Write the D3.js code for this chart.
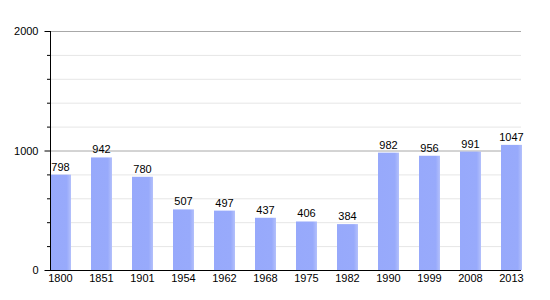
<!DOCTYPE html>
<html><head><meta charset="utf-8">
<script src="https://cdn.jsdelivr.net/npm/d3@7"></script>
<style>body{margin:0;background:#fff}svg{display:block}text{font-family:"Liberation Sans",Arial,sans-serif;font-size:11px;fill:#000}</style>
</head><body>
<script>
const years = ["1800","1851","1901","1954","1962","1968","1975","1982","1990","1999","2008","2013"];
const population = [798,942,780,507,497,437,406,384,982,956,991,1047];
const yTicks = [0,1000,2000];
const minorTicks = [200,400,600,800,1200,1400,1600,1800];

const W=550,H=300, mLeft=50, mRight=521, mTop=31, mBottom=270;
const svg=d3.select("body").append("svg").attr("width",W).attr("height",H);
const defs=svg.append("defs");
const g=defs.append("linearGradient").attr("id","bar").attr("x1","0").attr("x2","1");
g.append("stop").attr("offset","0").attr("stop-color","#97a9fb");
g.append("stop").attr("offset","0.8").attr("stop-color","#98aafb");
g.append("stop").attr("offset","1").attr("stop-color","#b4c1fb");

const y=d3.scaleLinear().domain([0,2000]).range([mBottom,mTop]);
const x=d3.scaleBand().domain(years).range([mLeft,mLeft+41*12]).paddingInner(0).paddingOuter(0);
const bw=21;

svg.append("g").selectAll("line").data(minorTicks).join("line")
 .attr("x1",mLeft).attr("x2",mRight).attr("y1",d=>y(d)+0.5).attr("y2",d=>y(d)+0.5)
 .attr("stroke","#e6e6e6");
svg.append("g").selectAll("line").data([1000,2000]).join("line")
 .attr("x1",mLeft).attr("x2",mRight).attr("y1",d=>y(d)+0.5).attr("y2",d=>y(d)+0.5)
 .attr("stroke","#a8a8a8");

svg.append("g").selectAll("rect").data(population).join("rect")
 .attr("x",(d,i)=>x(years[i])).attr("width",bw)
 .attr("y",d=>y(d)).attr("height",d=>mBottom-y(d)).attr("fill","url(#bar)");

svg.append("g").selectAll("text").data(population).join("text")
 .attr("x",(d,i)=>x(years[i])+bw/2).attr("y",d=>y(d)-4)
 .attr("text-anchor","middle").text(d=>d);

// y axis
const ya=svg.append("g").attr("transform",`translate(${mLeft+0.5},0)`)
 .call(d3.axisLeft(y).tickValues(yTicks).tickSize(6).tickPadding(6).tickFormat(d3.format("d")));
ya.select(".domain").remove();
ya.selectAll("line").attr("stroke","#000");
ya.selectAll("text").style("font-size","11px").style("font-family","'Liberation Sans',Arial,sans-serif").attr("fill","#000");
svg.append("g").selectAll("line").data(minorTicks).join("line")
 .attr("x1",mLeft-3).attr("x2",mLeft).attr("y1",d=>y(d)+0.5).attr("y2",d=>y(d)+0.5).attr("stroke","#000");
svg.append("line").attr("x1",mLeft+0.5).attr("x2",mLeft+0.5).attr("y1",mTop).attr("y2",mBottom+1).attr("stroke","#000");

// x axis
svg.append("line").attr("x1",mLeft).attr("x2",mRight).attr("y1",mBottom+0.5).attr("y2",mBottom+0.5).attr("stroke","#000");
svg.append("g").selectAll("text").data(years).join("text")
 .attr("x",d=>x(d)+bw/2).attr("y",mBottom+12).attr("text-anchor","middle").text(d=>d);
</script>
</body></html>
